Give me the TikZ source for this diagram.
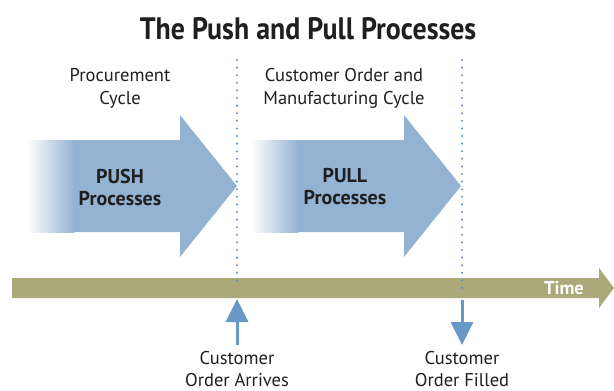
\documentclass[tikz,border=0pt]{standalone}
\usepackage{fontspec}
\setmainfont{PT Sans}
\newfontfamily\headfont[FakeStretch=0.9]{PT Sans}
\usetikzlibrary{arrows.meta}

\definecolor{procblue}{RGB}{148,179,211}
\definecolor{timeolive}{RGB}{169,169,122}
\definecolor{eventblue}{RGB}{104,152,198}
\definecolor{dotblue}{RGB}{95,148,202}

\begin{document}
\begin{tikzpicture}[x=1pt,y=-1pt,
    txt/.style={align=center,text=black!88,font=\fontsize{18.5}{23}\selectfont},
    boldtxt/.style={align=center,text=black!88,font=\fontsize{20}{22}\selectfont\bfseries},
    cutline/.style={dotblue,line width=2.3pt,line cap=round,dash pattern=on 0pt off 7.6pt},
    evt/.style={eventblue,line width=3pt,-{Triangle[width=22pt,length=23pt]}}]
    \useasboundingbox (0,0) rectangle (614,391);
    % title
    \node[font=\headfont\fontsize{31}{34}\selectfont\bfseries,text=black!88,anchor=base] (title) at (308,39) {The Push and Pull Processes};
    % cycle labels
    \node[txt] (proc) at (120,88) {Procurement\\Cycle};
    \node[txt] (mfg) at (344,88) {Customer Order and\\Manufacturing Cycle};
    % push arrow
    \fill[procblue] (28,140) -- (180,140) -- (180,115) -- (237,186) -- (180,257) -- (180,232) -- (28,232) -- cycle;
    \shade[left color=white,right color=procblue] (27,140) rectangle (74,232);
    \node[boldtxt] (push) at (120,187) {PUSH\\Processes};
    % pull arrow
    \fill[procblue] (252,140) -- (404,140) -- (404,115) -- (461,186) -- (404,257) -- (404,232) -- (252,232) -- cycle;
    \shade[left color=white,right color=procblue] (251,140) rectangle (298,232);
    \node[boldtxt] (pull) at (345,187) {PULL\\Processes};
    % time axis
    \fill[timeolive] (12,278) -- (599,278) -- (599,268) -- (614,288) -- (599,308) -- (599,298) -- (12,298) -- cycle;
    \node[boldtxt,text=white,font=\fontsize{18.5}{22}\selectfont\bfseries] (time) at (564,288) {Time};
    % cut lines
    \coordinate (cutA) at (237,60);
    \coordinate (cutB) at (462,60);
    \draw[cutline] (cutA) -- (237,283);
    \draw[cutline] (cutB) -- (462,288);
    % events
    \node[txt,font=\fontsize{18.5}{21.5}\selectfont] (arrives) at (237,369) {Customer\\Order Arrives};
    \node[txt,font=\fontsize{18.5}{21.5}\selectfont] (filled) at (462,369) {Customer\\Order Filled};
    \coordinate (arrA) at (237,345);
    \coordinate (arrB) at (462,345);
    \draw[evt] (arrA) -- (cutA |- 0,299);
    \draw[evt] (cutB |- 0,300) -- (arrB);
\end{tikzpicture}
\end{document}
